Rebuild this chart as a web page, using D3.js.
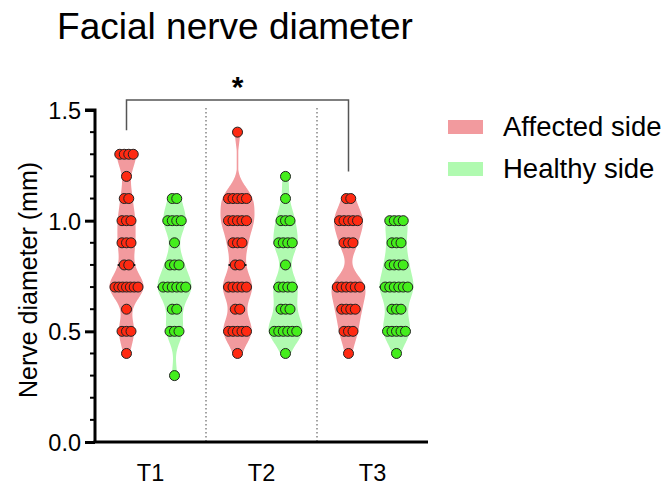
<!DOCTYPE html>
<html lang="en">
	<head>
		<meta charset="UTF-8" />
		<title>Facial nerve diameter</title>
		<script src="https://cdn.jsdelivr.net/npm/d3@7/dist/d3.min.js"></script>
		<style>
			body {
				margin: 0;
				background: #fff;
			}
			svg text {
				font-family: Arial, "Liberation Sans", sans-serif;
				fill: #000;
			}
		</style>
	</head>
	<body>
		<svg id="svg"></svg>
	</body>

	<script>
		// values (mm)
		const groups = ["T1", "T2", "T3"];
		const seriesNames = ["Affected side", "Healthy side"];

		const affectedT1 = [0.4, 0.5, 0.5, 0.5, 0.6, 0.7, 0.7, 0.7, 0.7, 0.7, 0.7, 0.7, 0.8, 0.8, 0.9, 0.9, 0.9, 1.0, 1.0, 1.0, 1.1, 1.1, 1.2, 1.3, 1.3, 1.3, 1.3];
		const healthyT1 = [0.3, 0.5, 0.5, 0.5, 0.6, 0.6, 0.7, 0.7, 0.7, 0.7, 0.7, 0.7, 0.8, 0.8, 0.8, 0.9, 1.0, 1.0, 1.0, 1.0, 1.1, 1.1];
		const affectedT2 = [0.4, 0.5, 0.5, 0.5, 0.5, 0.5, 0.6, 0.6, 0.7, 0.7, 0.7, 0.7, 0.7, 0.8, 0.8, 0.9, 0.9, 0.9, 1.0, 1.0, 1.0, 1.0, 1.0, 1.1, 1.1, 1.1, 1.1, 1.1, 1.4];
		const healthyT2 = [0.4, 0.5, 0.5, 0.5, 0.5, 0.5, 0.5, 0.6, 0.6, 0.6, 0.7, 0.7, 0.7, 0.7, 0.8, 0.9, 0.9, 0.9, 0.9, 1.0, 1.0, 1.0, 1.1, 1.2];
		const affectedT3 = [0.4, 0.5, 0.5, 0.5, 0.6, 0.6, 0.6, 0.6, 0.7, 0.7, 0.7, 0.7, 0.7, 0.7, 0.9, 0.9, 0.9, 1.0, 1.0, 1.0, 1.0, 1.0, 1.1, 1.1];
		const healthyT3 = [0.4, 0.5, 0.5, 0.5, 0.5, 0.5, 0.6, 0.6, 0.6, 0.7, 0.7, 0.7, 0.7, 0.7, 0.7, 0.8, 0.8, 0.8, 0.8, 0.9, 0.9, 0.9, 1.0, 1.0, 1.0, 1.0];

		const yTicks = [0, 0.5, 1.0, 1.5];
		const significance = { from: "T1", to: "T3", label: "*" };

		const violinFill = ["#f29a9e", "#b0fab0"];
		const pointFill = ["#ff2a12", "#44ee1c"];

		const table = [
			{ group: "T1", series: seriesNames[0], values: affectedT1 },
			{ group: "T1", series: seriesNames[1], values: healthyT1 },
			{ group: "T2", series: seriesNames[0], values: affectedT2 },
			{ group: "T2", series: seriesNames[1], values: healthyT2 },
			{ group: "T3", series: seriesNames[0], values: affectedT3 },
			{ group: "T3", series: seriesNames[1], values: healthyT3 },
		];

		const width = 666;
		const height = 485;
		const plot = { left: 95, right: 428, top: 110, bottom: 442 };

		const svg = d3.select("#svg").attr("width", width).attr("height", height);

		const x = d3.scaleBand().domain(groups).range([plot.left, plot.right]).padding(0);
		const xs = d3
			.scalePoint()
			.domain(seriesNames)
			.range([x.bandwidth() / 2 - 24, x.bandwidth() / 2 + 24]);
		const y = d3.scaleLinear().domain([0, 1.5]).range([plot.bottom, plot.top]);
		const color = d3.scaleOrdinal().domain(seriesNames).range(violinFill);
		const dotColor = d3.scaleOrdinal().domain(seriesNames).range(pointFill);

		// title
		svg.append("text")
			.attr("x", 235)
			.attr("y", 39)
			.attr("text-anchor", "middle")
			.style("font-size", "37px")
			.text("Facial nerve diameter");

		// dotted separators between groups
		svg.selectAll(".sep")
			.data(groups.slice(1))
			.join("line")
			.attr("class", "sep")
			.attr("x1", (d) => x(d))
			.attr("x2", (d) => x(d))
			.attr("y1", plot.top - 2)
			.attr("y2", plot.bottom)
			.attr("stroke", "#666")
			.attr("stroke-width", 1.2)
			.attr("stroke-dasharray", "1.5,2.5");

		// kernel density, truncated at min and max
		const bw = 0.055;
		const kde = (values, v) =>
			d3.sum(values, (d) => Math.exp(-0.5 * ((v - d) / bw) ** 2));

		const maxHalf = 17;
		const cx = (d) => x(d.group) + xs(d.series);

		table.forEach((d) => {
			const [lo, hi] = d3.extent(d.values);
			const grid = d3.range(lo, hi + 0.0001, 0.005);
			if (grid[grid.length - 1] < hi) grid.push(hi);
			const dens = grid.map((v) => [v, kde(d.values, v)]);
			const dMax = d3.max(dens, (e) => e[1]);
			d.shape = dens.map(([v, k]) => [v, Math.max(0.8, (k / dMax) * maxHalf)]);
			d.median = d3.median(d.values);
			d.medianHalf = (kde(d.values, d.median) / dMax) * maxHalf;
		});

		const area = d3
			.area()
			.y((e) => y(e[0]))
			.curve(d3.curveBasis);

		// violins
		svg.selectAll(".violin")
			.data(table)
			.join("path")
			.attr("class", "violin")
			.attr("d", (d) =>
				area.x0((e) => cx(d) - e[1]).x1((e) => cx(d) + e[1])(d.shape)
			)
			.attr("fill", (d) => color(d.series))
			.attr("stroke", "none");

		// median lines
		svg.selectAll(".median")
			.data(table)
			.join("line")
			.attr("class", "median")
			.attr("x1", (d) => cx(d) - d.medianHalf)
			.attr("x2", (d) => cx(d) + d.medianHalf)
			.attr("y1", (d) => y(d.median))
			.attr("y2", (d) => y(d.median))
			.attr("stroke", "#111")
			.attr("stroke-width", 2)
			.attr("stroke-dasharray", "5,2");

		// points spread sideways by value row
		const points = [];
		table.forEach((d) => {
			const rows = d3.group(d.values, (v) => Math.round(v * 10));
			rows.forEach((vals) => {
				const k = vals.length;
				const dx = k > 1 ? Math.min(4.5, 23 / (k - 1)) : 0;
				vals.forEach((v, i) => {
					points.push({
						series: d.series,
						x: cx(d) + (i - (k - 1) / 2) * dx,
						v: v,
					});
				});
			});
		});

		svg.selectAll(".dot")
			.data(points)
			.join("circle")
			.attr("class", "dot")
			.attr("cx", (d) => d.x)
			.attr("cy", (d) => y(d.v))
			.attr("r", 5)
			.attr("fill", (d) => dotColor(d.series))
			.attr("stroke", "#222")
			.attr("stroke-width", 1);

		// y axis
		const yAxis = svg
			.append("g")
			.attr("transform", `translate(${plot.left},0)`)
			.call(d3.axisLeft(y).tickValues(yTicks).tickFormat(d3.format(".1f")).tickSize(10).tickPadding(4));
		yAxis.select(".domain").attr("stroke-width", 3).attr("d", `M-10,${plot.top}H0V${plot.bottom}`);
		yAxis.selectAll(".tick line").attr("stroke-width", 3);
		yAxis.selectAll(".tick text").style("font-size", "23.5px").attr("dy", "0.36em");

		svg.append("g")
			.attr("transform", `translate(${plot.left},0)`)
			.selectAll("line")
			.data(d3.range(1, 15).filter((i) => i % 5 !== 0).map((i) => i / 10))
			.join("line")
			.attr("x1", -5)
			.attr("x2", 0)
			.attr("y1", (d) => y(d))
			.attr("y2", (d) => y(d))
			.attr("stroke", "#000")
			.attr("stroke-width", 2);

		// x axis
		const xAxis = svg
			.append("g")
			.attr("transform", `translate(0,${plot.bottom})`)
			.call(d3.axisBottom(x).tickSize(0).tickPadding(22));
		xAxis.select(".domain").attr("stroke-width", 3).attr("d", `M${plot.left - 1.5},0H${plot.right}`);
		xAxis.selectAll(".tick text").style("font-size", "23.5px");

		// y label
		svg.append("text")
			.attr("transform", `translate(37,${(plot.top + plot.bottom) / 2 + 4}) rotate(-90)`)
			.attr("text-anchor", "middle")
			.style("font-size", "25px")
			.text("Nerve diameter (mm)");

		// significance bracket
		const topOf = (g) =>
			d3.max(table.filter((d) => d.group === g && d.series === seriesNames[0]), (d) => d3.max(d.values));
		const bx1 = x(significance.from) + xs(seriesNames[0]);
		const bx2 = x(significance.to) + xs(seriesNames[0]);
		const by = plot.top - 10;
		svg.append("path")
			.attr(
				"d",
				`M${bx1},${y(topOf(significance.from)) - 24}V${by}H${bx2}V${y(topOf(significance.to)) - 27}`
			)
			.attr("fill", "none")
			.attr("stroke", "#555")
			.attr("stroke-width", 1.5);
		svg.append("text")
			.attr("x", (bx1 + bx2) / 2)
			.attr("y", by - 3)
			.attr("text-anchor", "middle")
			.style("font-size", "30px")
			.style("font-weight", 700)
			.text(significance.label);

		// legend
		const legend = svg
			.selectAll(".legend")
			.data(seriesNames)
			.join("g")
			.attr("class", "legend")
			.attr("transform", (d, i) => `translate(448,${120 + i * 42})`);
		legend.append("rect")
			.attr("width", 35)
			.attr("height", 14)
			.attr("fill", (d) => color(d));
		legend.append("text")
			.attr("x", 55)
			.attr("y", 16)
			.style("font-size", "27.5px")
			.text((d) => d);
	</script>
</html>
